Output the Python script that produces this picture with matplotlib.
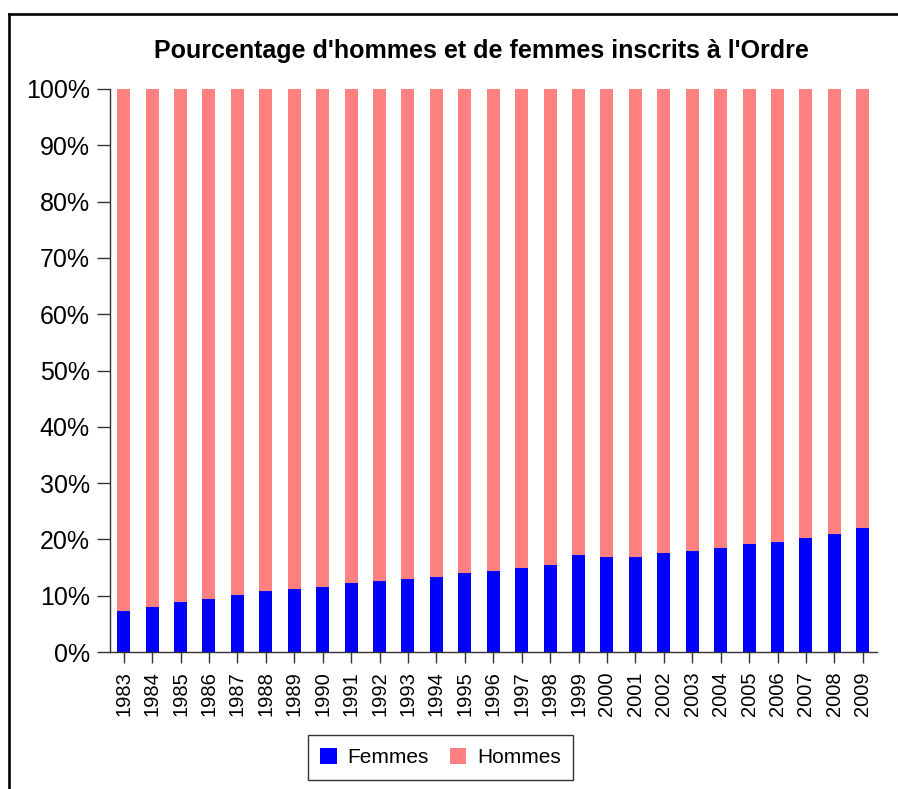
import matplotlib
matplotlib.use("Agg")
import matplotlib.pyplot as plt
from matplotlib.lines import Line2D
from matplotlib.patches import Patch
import numpy as np

plt.rcParams['font.family'] = ['Liberation Sans', 'DejaVu Sans']

years = ["1983", "1984", "1985", "1986", "1987", "1988", "1989", "1990", "1991",
         "1992", "1993", "1994", "1995", "1996", "1997", "1998", "1999", "2000",
         "2001", "2002", "2003", "2004", "2005", "2006", "2007", "2008", "2009"]
femmes = [7.35, 8.0, 8.8, 9.5, 10.1, 10.8, 11.2, 11.5, 12.3, 12.6, 13.0, 13.3, 14.0,
          14.3, 15.0, 15.4, 17.2, 16.8, 16.8, 17.5, 17.9, 18.5, 19.2, 19.6, 20.2, 21.0, 22.1]
hommes = [100 - f for f in femmes]
yticks = [0, 10, 20, 30, 40, 50, 60, 70, 80, 90, 100]
title = "Pourcentage d'hommes et de femmes inscrits à l'Ordre"

W, H = 898, 789
fig = plt.figure(figsize=(W / 100, H / 100), dpi=100)
ax = fig.add_axes([110 / W, 1 - 652 / H, (877 - 110) / W, (652 - 89) / H])

x = np.arange(len(years))
ax.bar(x, femmes, width=0.46, color='#0000FF', label='Femmes')
ax.bar(x, hommes, width=0.46, bottom=femmes, color='#FF8080', label='Hommes')

ax.set_xlim(-0.48, len(years) - 0.5)
ax.set_ylim(0, 100)
ax.set_yticks(yticks)
ax.set_yticklabels([f"{t}%" for t in yticks], fontsize=18)
ax.set_xticks(x)
ax.set_xticklabels(years, rotation=90, fontsize=14.5)
ax.tick_params(axis='y', length=9.4, width=1, pad=5, color='#333333')
ax.tick_params(axis='x', length=8, width=1, pad=6, color='#333333')
for s in ['top', 'right']:
    ax.spines[s].set_visible(False)
for s in ['left', 'bottom']:
    ax.spines[s].set_color('#333333')
    ax.spines[s].set_linewidth(1)

fig.text(481.5 / W, 1 - 51 / H, title, ha='center', va='center',
         fontsize=18, fontweight='bold')

handles = [Patch(facecolor='#0000FF', label='Femmes'),
           Patch(facecolor='#FF8080', label='Hommes')]
leg = fig.legend(handles=handles, loc='center', bbox_to_anchor=(440.5 / W, 1 - 757.5 / H),
                 ncol=2, fontsize=15, frameon=True, fancybox=False, edgecolor='black',
                 handlelength=0.8, handleheight=0.8, handletextpad=0.5, columnspacing=1.0,
                 borderpad=0.6, borderaxespad=0)
leg.get_frame().set_linewidth(1)

# outer frame (left and top edges visible)
fig.add_artist(Line2D([8.7 / W, 8.7 / W], [0, 1 - 13.7 / H], transform=fig.transFigure,
                      color='black', linewidth=1.9))
fig.add_artist(Line2D([8.7 / W, 1], [1 - 13.7 / H, 1 - 13.7 / H], transform=fig.transFigure,
                      color='black', linewidth=1.9))

fig.savefig("out.png", dpi=100)
